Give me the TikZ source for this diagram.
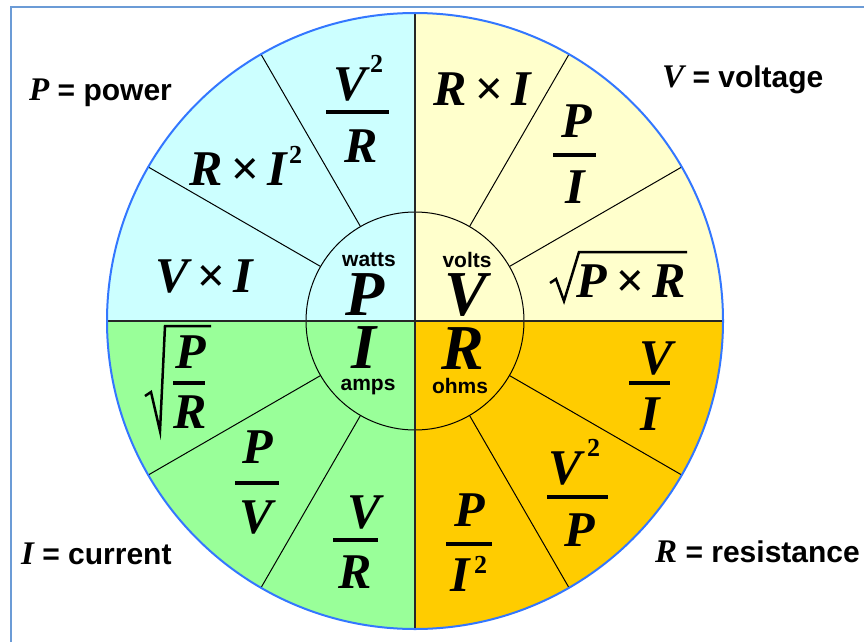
\documentclass[tikz,border=0pt]{standalone}
\usepackage{fontspec}
\setmainfont{Liberation Serif}
\newfontfamily\keyfont{Liberation Sans}
\usetikzlibrary{calc}

\definecolor{wattsblue}{HTML}{CCFFFF}
\definecolor{voltsyellow}{HTML}{FFFFCC}
\definecolor{ampsgreen}{HTML}{99FF99}
\definecolor{ohmsgold}{HTML}{FFCC00}
\definecolor{rimblue}{HTML}{3377FF}
\definecolor{frameblue}{HTML}{6B9BD6}

\newcommand\varkey{\rmfamily\bfseries\itshape\fontsize{33}{33}\selectfont}
\newcommand\tms{\,×\,}

\tikzset{
  var/.style={inner sep=0pt, anchor=base, text height=0.7em, text depth=0pt,
    font=\fontsize{50}{50}\selectfont\bfseries\itshape},
  bigvar/.style={var, font=\fontsize{64}{64}\selectfont\bfseries\itshape},
  sq/.style={inner sep=0pt, anchor=base west, font=\fontsize{26}{26}\selectfont\bfseries},
  unit/.style={inner sep=0pt, anchor=base, text depth=0pt,
    font=\keyfont\bfseries\fontsize{21}{21}\selectfont},
  key/.style={inner sep=0pt, anchor=base west, font=\keyfont\bfseries\fontsize{30}{30}\selectfont},
  bar/.style={line width=4pt},
  spoke/.style={line width=1pt},
  axis/.style={line width=2pt, black!85},
  rad/.style={line width=2.5pt, line join=miter}
}

\begin{document}
\begin{tikzpicture}[x=1pt,y=-1pt]
  \useasboundingbox (0,0) rectangle (864,642);
  \fill[white] (0,0) rectangle (864,642);
  \draw[frameblue, line width=2pt] (11,642) -- (11,7) -- (864,7);
  \coordinate (O) at (415,321);

  % quadrants
  \begin{scope}
    \clip (O) circle (308pt);
    \fill[wattsblue] (O) rectangle (100,0);
    \fill[voltsyellow] (O) rectangle (730,0);
    \fill[ampsgreen] (O) rectangle (100,640);
    \fill[ohmsgold] (O) rectangle (730,640);
  \end{scope}
  \foreach \a in {30,60,120,150,210,240,300,330}
    \draw[spoke] ($(O)+(-\a:109)$) -- ($(O)+(-\a:308)$);
  \draw[spoke] (O) circle (109pt);
  \draw[axis] ($(O)+(0,-308)$) -- ($(O)+(0,308)$);
  \draw[axis] ($(O)+(-308,0)$) -- ($(O)+(308,0)$);
  \draw[rimblue, line width=2pt] (O) circle (308pt);

  % hub
  \node[unit] (watts) at (369,266) {watts};
  \node[bigvar] (varP) at (365,315) {P};
  \node[unit] (volts) at (467,267) {volts};
  \node[bigvar] (varV) at (466,315) {V};
  \node[bigvar] (varI) at (364,368) {I};
  \node[unit] (amps) at (368,390) {amps};
  \node[bigvar] (varR) at (463,369) {R};
  \node[unit] (ohms) at (460,393) {ohms};

  % watts quadrant
  \node[var] (vsqr-num) at (350,100) {V};
  \node[sq] (vsqr-sq) at (370,72) {2};
  \draw[bar] (326,112) -- (389,112);
  \node[var] (vsqr-den) at (361,162) {R};
  \node[var] (rii) at (238,185) {R\tms I};
  \node[sq] (rii-sq) at (289,163) {2};
  \node[var] (vi) at (204,292) {V\tms I};

  % volts quadrant
  \node[var] (ri) at (482,105) {R\tms I};
  \node[var] (pi-num) at (577,137) {P};
  \draw[bar] (553,155) -- (596,155);
  \node[var] (pi-den) at (575,203) {I};
  \node[var] (pr) at (631,297) {P\tms R};
  \draw[rad] (550,283) -- (556,279) -- (564,301) -- (579,252) -- (687,252);

  % amps quadrant
  \draw[rad] (145,396) -- (151,392) -- (160,431) -- (165,326) -- (211,326);
  \node[var] (pr-num) at (191,368) {P};
  \draw[bar] (173,383) -- (205,383);
  \node[var] (pr-den) at (190,428) {R};
  \node[var] (pv-num) at (258,463) {P};
  \draw[bar] (235,483) -- (279,483);
  \node[var] (pv-den) at (256,533) {V};
  \node[var] (vr-num) at (364,528) {V};
  \draw[bar] (333,540) -- (378,540);
  \node[var] (vr-den) at (355,588) {R};

  % ohms quadrant
  \node[var] (vi2-num) at (656,374) {V};
  \draw[bar] (629,383) -- (670,383);
  \node[var] (vi2-den) at (650,430) {I};
  \node[var] (vsqp-num) at (565,484) {V};
  \node[sq] (vsqp-sq) at (587,456) {2};
  \draw[bar] (547,497) -- (608,497);
  \node[var] (vsqp-den) at (580,546) {P};
  \node[var] (pisq-num) at (470,526) {P};
  \draw[bar] (446,544) -- (492,544);
  \node[var] (pisq-den) at (460,591) {I};
  \node[sq] (pisq-sq) at (474,573) {2};

  % key
  \node[key] (keyP) at (29,100) {{\varkey P} = power};
  \node[key] (keyV) at (662,87) {{\varkey V} = voltage};
  \node[key] (keyI) at (21,564) {{\varkey I} = current};
  \node[key] (keyR) at (655,562) {{\varkey R} = resistance};
\end{tikzpicture}
\end{document}
